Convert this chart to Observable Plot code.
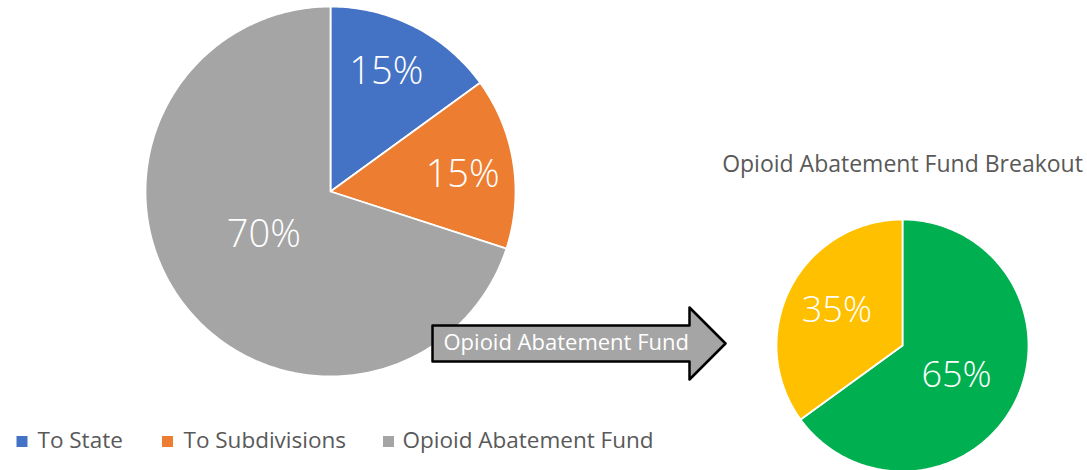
<!DOCTYPE html>
<html>
<head>
<meta charset="utf-8">
<script src="https://cdn.jsdelivr.net/npm/d3@7"></script>
<script src="https://cdn.jsdelivr.net/npm/@observablehq/plot@0.6"></script>
<style>
  html, body { margin: 0; padding: 0; background: #fff; }
  svg { display: block; }
</style>
</head>
<body>
<div id="chart"></div>
<script>
// ---- data ----
const mainCategories = ["To State", "To Subdivisions", "Opioid Abatement Fund"];
const mainValues = [15, 15, 70];
const mainColors = ["#4472c4", "#ed7d31", "#a5a5a5"];

const breakoutCategories = ["Abatement A", "Abatement B"];
const breakoutValues = [65, 35];
const breakoutColors = ["#00b050", "#ffc000"];

const breakoutTitle = "Opioid Abatement Fund Breakout";
const arrowLabel = "Opioid Abatement Fund";

// ---- layout ----
const W = 1087, H = 470;
const FONT = "'Open Sans', 'Segoe UI', sans-serif";
const mainPie = {cx: 330, cy: 191, r: 185, labelR: [0.715, 0.72, 0.43], labelShift: [-2, 2, 3]};
const smallPie = {cx: 902, cy: 345, r: 126, labelR: [0.49, 0.59], labelShift: [2, 1]};

function wedges(values, colors, pie, prefix) {
  const arcs = d3.pie().sort(null).value(d => d)(values);
  const pts = [];
  arcs.forEach((a, i) => {
    const key = prefix + i;
    pts.push({k: key, c: colors[i], x: pie.cx, y: pie.cy});
    const n = Math.max(8, Math.ceil((a.endAngle - a.startAngle) * 60));
    for (let j = 0; j <= n; j++) {
      const t = a.startAngle + (a.endAngle - a.startAngle) * j / n;
      pts.push({k: key, c: colors[i], x: pie.cx + pie.r * Math.sin(t), y: pie.cy - pie.r * Math.cos(t)});
    }
    pts.push({k: key, c: colors[i], x: pie.cx, y: pie.cy});
  });
  return {pts, arcs};
}

const main = wedges(mainValues, mainColors, mainPie, "m");
const small = wedges(breakoutValues, breakoutColors, smallPie, "s");

function labelPos(arcs, values, pie) {
  return arcs.map((a, i) => {
    const m = (a.startAngle + a.endAngle) / 2 + pie.labelShift[i] * Math.PI / 180;
    const rr = pie.r * pie.labelR[i];
    return {x: pie.cx + rr * Math.sin(m), y: pie.cy - rr * Math.cos(m), t: values[i] + "%"};
  });
}
const mainLabels = labelPos(main.arcs, mainValues, mainPie);
const smallLabels = labelPos(small.arcs, breakoutValues, smallPie);

// arrow shape
const arrow = {x0: 432, x1: 689, tip: 725, yc: 343, half: 18, headHalf: 36};
const arrowPts = [
  [arrow.x0, arrow.yc - arrow.half], [arrow.x1, arrow.yc - arrow.half], [arrow.x1, arrow.yc - arrow.headHalf],
  [arrow.tip, arrow.yc], [arrow.x1, arrow.yc + arrow.headHalf], [arrow.x1, arrow.yc + arrow.half],
  [arrow.x0, arrow.yc + arrow.half], [arrow.x0, arrow.yc - arrow.half]
].map(([x, y]) => ({x, y}));

// legend
const legendSwatchX = [21.5, 167, 388];
const legendTextX = [37, 183, 402];
const legendY = 441;
const legend = mainCategories.map((c, i) => ({sx: legendSwatchX[i], tx: legendTextX[i], y: legendY, c: mainColors[i], t: c}));

const plot = Plot.plot({
  width: W, height: H,
  margin: 0,
  x: {domain: [0, W], range: [0, W], axis: null},
  y: {domain: [0, H], range: [0, H], axis: null},
  style: {fontFamily: FONT, background: "#fff"},
  marks: [
    Plot.line(main.pts, {x: "x", y: "y", z: "k", fill: "c", stroke: "#fff", strokeWidth: 1.8, curve: "linear"}),
    Plot.line(small.pts, {x: "x", y: "y", z: "k", fill: "c", stroke: "#fff", strokeWidth: 1.8, curve: "linear"}),
    Plot.text(mainLabels, {x: "x", y: "y", text: "t", fill: "#fff", fontSize: 38, fontWeight: 300}),
    Plot.text(smallLabels, {x: "x", y: "y", text: "t", fill: "#fff", fontSize: 36, fontWeight: 300}),
    Plot.line(arrowPts, {x: "x", y: "y", fill: "#a5a5a5", stroke: "#000", strokeWidth: 2.5}),
    Plot.text([arrowLabel], {x: arrow.x0 + 11, y: arrow.yc - 1, text: d => d, textAnchor: "start", fill: "#fff", fontSize: 22, textLength: 251, lengthAdjust: "spacingAndGlyphs"}),
    Plot.text([breakoutTitle], {x: 902, y: 164, text: d => d, fill: "#595959", fontSize: 23}),
    Plot.dot(legend, {x: "sx", y: "y", symbol: "square", r: 6.2, fill: "c", stroke: null}),
    Plot.text(legend, {x: "tx", y: d => d.y - 1, text: "t", textAnchor: "start", fill: "#595959", fontSize: 22.5})
  ]
});
document.getElementById("chart").appendChild(plot);
</script>
</body>
</html>
